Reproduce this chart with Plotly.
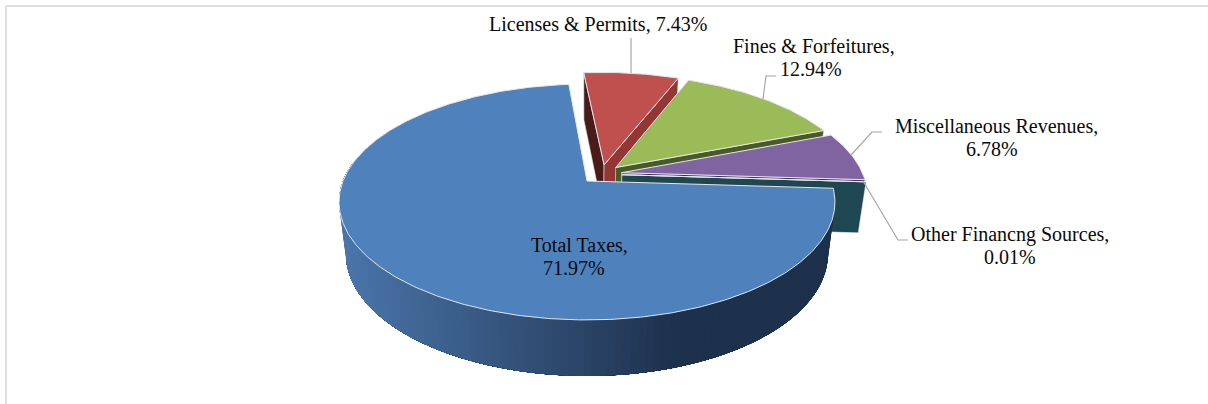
import math
import plotly.graph_objects as go

# ---- data ----
categories = ["Total Taxes", "Licenses & Permits", "Fines & Forfeitures",
              "Miscellaneous Revenues", "Other Financng Sources"]
shares = [71.97, 7.43, 12.94, 6.78, 0.01]   # percent (sum is scaled to a full turn)
tops = ["#4F81BD", "#C0504D", "#9BBB59", "#8064A2", "#4BACC6"]
end_walls = ["#1D304C", "#943634", "#4A5A26", "#3F3151", "#1F4751"]
start_wall_red = "#4B1B1A"

# ---- view of the tilted disc (pixel space of the 1208x404 page) ----
OX, OY = 587.0, 181.0      # apex of the first slice
RX, RY = 244.0, 114.2      # disc radii on screen
PERSP = 0.178              # perspective strength
DROP = 51.0                # thickness
BX, BY = 0.972, 1.036      # lower face scale
PULL = 0.085               # explosion
START = 3.6                # first slice start angle, degrees clockwise from east


def project(u, v, lower=False):
    w = 1 - PERSP * v
    if lower:
        return OX + BX * RX * u / w, OY + DROP + BY * RY * v / w
    return OX + RX * u / w, OY + RY * v / w


total = sum(shares)
slices = []
a = START
for s in shares:
    b = a + s / total * 360
    slices.append((a, b))
    a = b


def mid_dir(i):
    m = math.radians(sum(slices[i]) / 2)
    return math.cos(m), math.sin(m)


d0 = mid_dir(0)
offs = [(PULL * (mid_dir(i)[0] - d0[0]), PULL * (mid_dir(i)[1] - d0[1])) for i in range(5)]


def rim(i, t, lower=False):
    r = math.radians(t)
    return project(offs[i][0] + math.cos(r), offs[i][1] + math.sin(r), lower)


def arc(i, t0, t1, lower=False, n=None):
    n = n or max(2, int(abs(t1 - t0) * 1.5))
    return [rim(i, t0 + (t1 - t0) * k / n, lower) for k in range(n + 1)]


def apex(i, lower=False):
    return project(offs[i][0], offs[i][1], lower)


fig = go.Figure()


def poly(pts, fill, line=None, width=1.0):
    xs = [p[0] for p in pts] + [pts[0][0]]
    ys = [p[1] for p in pts] + [pts[0][1]]
    fig.add_trace(go.Scatter(x=xs, y=ys, mode="lines", fill="toself", fillcolor=fill,
                             line=dict(color=line or fill, width=width),
                             hoverinfo="skip", showlegend=False))


EDGE = "#E4E7EC"

# back slices, far to near
for i in [1, 2, 3, 4]:
    t0, t1 = slices[i]
    if i == 1:
        poly([rim(i, t0), apex(i), apex(i, True), rim(i, t0, True)], start_wall_red, EDGE, 0.6)
    poly([apex(i), rim(i, t1), rim(i, t1, True), apex(i, True)], end_walls[i], EDGE, 0.6)
    poly([apex(i)] + arc(i, t0, t1, n=max(2, int((t1 - t0) * 1.5))), tops[i], EDGE, 1.0)

# rim of the large slice with its shading: painter's order, each band reaches the far end
LEFT_C = (0x4A, 0x75, 0xA9)
DARK_C = (0x1D, 0x30, 0x4C)
t0, t1 = slices[0]
n = 120
rim_end = min(t1, 190)
for k in range(n):
    s0 = t0 + (rim_end - t0) * k / n
    x = rim(0, s0)[0]
    f = min(1, max(0, (x - 345) / (685 - 345)))
    c = "#%02X%02X%02X" % tuple(round(LEFT_C[j] + (DARK_C[j] - LEFT_C[j]) * f) for j in range(3))
    poly(arc(0, s0, rim_end, n=60) + arc(0, rim_end, s0, lower=True, n=60), c, c, 0)

poly([apex(0)] + arc(0, t0, t1), tops[0], EDGE, 1.0)

# leader lines
LEADER = "#A6A6A6"
leaders = [
    [(631, 38), (631, 73)],
    [(776, 76), (766, 76), (763, 99)],
    [(882, 132), (872, 132), (851, 155)],
    [(908, 240), (898, 240), (863, 181)],
]
for pts in leaders:
    fig.add_trace(go.Scatter(x=[p[0] for p in pts], y=[p[1] for p in pts], mode="lines",
                             line=dict(color=LEADER, width=1.2), hoverinfo="skip", showlegend=False))

FONT = dict(family="Liberation Serif", size=20, color="#0A0A0A")


def pct(i):
    return f"{shares[i]:.2f}%"


notes = [
    (579, 245, categories[0] + ","),
    (573.5, 268, pct(0)),
    (598, 24, f"{categories[1]}, {pct(1)}"),
    (813.5, 46, categories[2] + ","),
    (811, 69, pct(2)),
    (996, 126, categories[3] + ","),
    (991.5, 149, pct(3)),
    (1009.5, 234, categories[4] + ","),
    (1009.5, 257, pct(4)),
]
ann = [dict(x=x, y=y, xref="x", yref="y", text=t, showarrow=False, font=FONT,
            xanchor="center", yanchor="middle", align="center") for x, y, t in notes]
# foot of the cropped chart title above the frame
ann.append(dict(x=631, y=-6, xref="x", yref="y", text="<b>y</b>", showarrow=False,
                font=dict(family="Liberation Serif", size=21, color="#0A0A0A"),
                xanchor="center", yanchor="middle"))

FRAME = "#DEDEDE"
shapes = [
    dict(type="line", x0=6, x1=1208, y0=6, y1=6, xref="x", yref="y", line=dict(color=FRAME, width=2)),
    dict(type="line", x0=6, x1=6, y0=6, y1=404, xref="x", yref="y", line=dict(color=FRAME, width=2)),
]

fig.update_layout(
    width=1208, height=404, margin=dict(l=0, r=0, t=0, b=0),
    paper_bgcolor="white", plot_bgcolor="white", showlegend=False,
    xaxis=dict(range=[0, 1208], visible=False, fixedrange=True),
    yaxis=dict(range=[404, 0], visible=False, fixedrange=True),
    annotations=ann, shapes=shapes,
)
fig.write_html("out.html", config=dict(displayModeBar=False),
               post_script="document.body.style.margin='0';document.documentElement.style.overflow='hidden';")
